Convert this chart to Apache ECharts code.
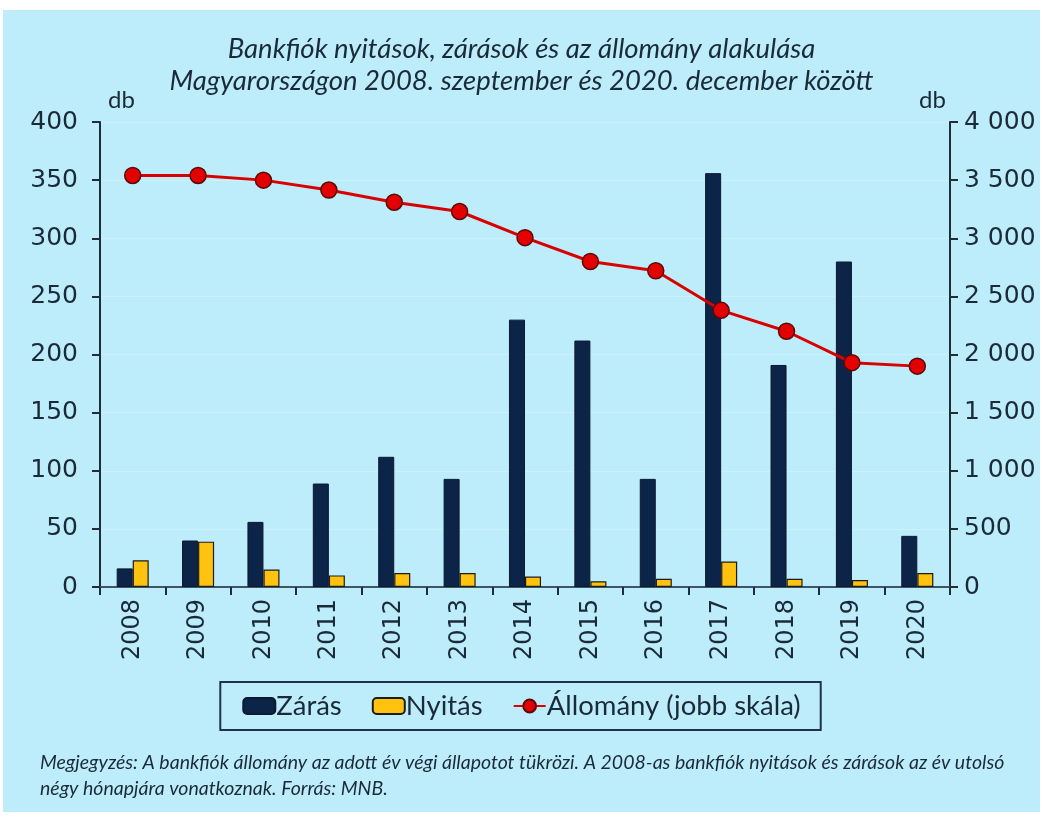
<!DOCTYPE html>
<html><head><meta charset="utf-8">
<script src="https://cdn.jsdelivr.net/npm/echarts@6/dist/echarts.min.js"></script>
<style>
html,body{margin:0;padding:0;background:#fff;}
#bg{position:absolute;left:3px;top:10px;width:1037px;height:802px;background:#bdedfb;}
#c{position:absolute;left:0;top:0;width:1043px;height:820px;}
</style></head><body>
<div id="bg"></div><div id="c"></div>
<script>
const years = ['2008','2009','2010','2011','2012','2013','2014','2015','2016','2017','2018','2019','2020'];
const zaras = [16, 40, 56, 89, 112, 93, 230, 212, 93, 356, 191, 280, 44];
const nyitas = [23, 39, 15, 10, 12, 12, 9, 5, 7, 22, 7, 6, 12];
const allomany = [3540, 3540, 3500, 3415, 3310, 3230, 3005, 2800, 2720, 2380, 2200, 1930, 1900];
const leftTicks = [0, 400, 50];
const rightTicks = [0, 4000, 500];

const FONT = 'Lato, "Liberation Sans", sans-serif';
const NUMFONT = '"DejaVu Sans", sans-serif';
const TXT = '#1b2a38';
const chart = echarts.init(document.getElementById('c'));
chart.setOption({
  backgroundColor: 'transparent',
  animation: false,
  textStyle: {fontFamily: FONT, color: TXT},
  title: {
    text: 'Bankfiók nyitások, zárások és az állomány alakulása\nMagyarországon 2008. szeptember és 2020. december között',
    left: 'center', top: 28,
    textStyle: {fontFamily: FONT, fontStyle: 'italic', fontWeight: 'normal', fontSize: 27.5, lineHeight: 32, color: TXT}
  },
  legend: {
    top: 682, left: 'center',
    data: ['Zárás', 'Nyitás', 'Állomány (jobb skála)'],
    borderColor: '#1f3347', borderWidth: 2, borderRadius: 0,
    padding: [10, 20, 10, 22],
    itemWidth: 32, itemHeight: 16, itemGap: 30,
    textStyle: {fontFamily: FONT, fontSize: 27.5, color: TXT, padding: [0,0,0,-4]}
  },
  grid: {left: 100, right: 93, top: 122, bottom: 233},
  xAxis: [{
    type: 'category', data: years,
    axisLine: {lineStyle: {color: '#1f2d3a', width: 2}},
    axisTick: {show: true, length: 8, lineStyle: {color: '#1f2d3a', width: 2}},
    axisLabel: {rotate: 90, margin: 12, fontSize: 24, color: TXT, fontFamily: NUMFONT}
  }, {
    type: 'category', data: years, position: 'top',
    axisLine: {show: true, lineStyle: {color: '#3d5566', width: 2}},
    axisTick: {show: false}, axisLabel: {show: false}, splitLine: {show: false}
  }],
  yAxis: [{
    type: 'value', min: leftTicks[0], max: leftTicks[1], interval: leftTicks[2],
    name: 'db', nameLocation: 'end', nameGap: 10,
    nameTextStyle: {fontSize: 24, color: TXT, align: 'left', padding: [0, 0, 0, 8], fontFamily: FONT},
    axisLine: {show: true, lineStyle: {color: '#1f2d3a', width: 2}},
    axisTick: {show: true, length: 8, lineStyle: {color: '#1f2d3a', width: 2}},
    axisLabel: {fontSize: 25, color: TXT, margin: 22, fontFamily: NUMFONT},
    splitLine: {show: true, lineStyle: {color: '#ccf1fb', width: 1}}
  }, {
    type: 'value', min: rightTicks[0], max: rightTicks[1], interval: rightTicks[2], position: 'right',
    name: 'db', nameLocation: 'end', nameGap: 10,
    nameTextStyle: {fontSize: 24, color: TXT, align: 'right', padding: [0, 4, 0, 0], fontFamily: FONT},
    axisLine: {show: true, lineStyle: {color: '#1f2d3a', width: 2}},
    axisTick: {show: true, length: 8, lineStyle: {color: '#1f2d3a', width: 2}},
    axisLabel: {fontSize: 25, color: TXT, margin: 14, fontFamily: NUMFONT,
      formatter: v => String(v).replace(/\B(?=(\d{3})+(?!\d))/g, ' ')},
    splitLine: {show: false}
  }],
  series: [{
    name: 'Zárás', type: 'bar', data: zaras, barWidth: '24.5%', barGap: '0%',
    itemStyle: {color: '#0b2447', borderColor: '#0b1a2c', borderWidth: 1}
  }, {
    name: 'Nyitás', type: 'bar', data: nyitas, barWidth: '24.5%', barGap: '0%',
    itemStyle: {color: '#ffc20e', borderColor: '#1c1c1c', borderWidth: 1.2}
  }, {
    name: 'Állomány (jobb skála)', type: 'line', yAxisIndex: 1, data: allomany,
    symbol: 'circle', symbolSize: 16,
    lineStyle: {color: '#d90000', width: 3},
    itemStyle: {color: '#e30000', borderColor: '#5a0a0a', borderWidth: 1.5}
  }],
  graphic: [{
    type: 'text', left: 40, top: 750,
    style: {text: 'Megjegyzés: A bankfiók állomány az adott év végi állapotot tükrözi. A 2008-as bankfiók nyitások és zárások az év utolsó\nnégy hónapjára vonatkoznak. Forrás: MNB.',
      font: 'italic 19.5px Lato, "Liberation Sans", sans-serif', fill: TXT, lineHeight: 26}
  }]
});
</script></body></html>
